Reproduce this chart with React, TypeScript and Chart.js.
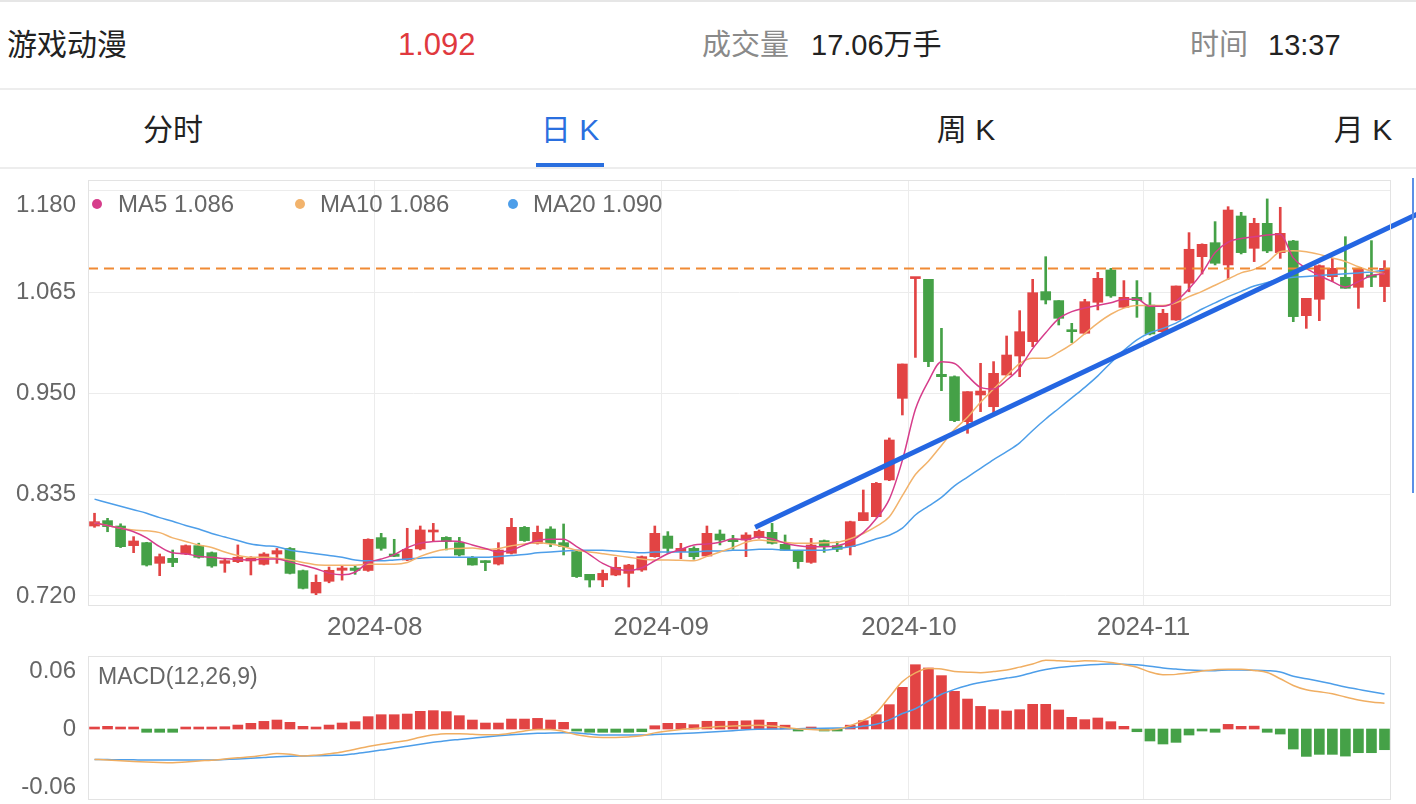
import React, { useEffect, useRef } from 'react';
import { Chart, registerables } from 'chart.js';
Chart.register(...registerables);

// ---------- data ----------
const opens = [0.7995,0.8056,0.7995,0.7772,0.7806,0.7571,0.7628,0.7677,0.7772,0.7692,0.7571,0.759,0.7598,0.756,0.7677,0.774,0.7488,0.7234,0.7367,0.7492,0.7518,0.749,0.7863,0.7677,0.7609,0.7734,0.7927,0.7866,0.7806,0.7639,0.7598,0.7563,0.7685,0.798,0.7798,0.7961,0.7806,0.7704,0.7446,0.7382,0.7438,0.7457,0.7495,0.7647,0.7881,0.7704,0.7741,0.7654,0.7904,0.7844,0.7836,0.7866,0.7923,0.7787,0.7719,0.7582,0.7829,0.7772,0.776,0.8056,0.8101,0.8518,0.9445,1.0805,1.0797,0.9718,0.9691,0.918,0.9483,0.935,0.971,0.9926,1.0089,1.0657,1.0555,1.0221,1.0184,1.0536,1.0903,1.0479,1.0592,1.0505,1.0202,1.0335,1.0752,1.1054,1.1213,1.096,1.1516,1.1149,1.1433,1.11,1.1232,1.0384,1.057,1.0827,1.082,1.0706,1.0846,1.0714];
const closes = [0.8044,0.7988,0.776,0.7825,0.7552,0.7647,0.758,0.7772,0.7639,0.7541,0.7601,0.764,0.7628,0.7677,0.7715,0.7457,0.7287,0.7355,0.7492,0.7518,0.749,0.7844,0.7741,0.765,0.773,0.795,0.7946,0.7817,0.7666,0.7552,0.7579,0.7722,0.798,0.7829,0.7923,0.7798,0.776,0.742,0.7382,0.7457,0.7526,0.7552,0.7647,0.7912,0.7741,0.7741,0.7647,0.7912,0.7836,0.7817,0.7893,0.7934,0.7798,0.7719,0.759,0.7779,0.776,0.773,0.8044,0.8147,0.848,0.8972,0.9835,1.0816,0.9862,0.9691,0.9192,0.9521,0.9528,0.9729,0.9937,1.0202,1.0645,1.0562,1.0354,1.0202,1.0543,1.0808,1.0608,1.0592,1.0555,1.0176,1.0411,1.0721,1.1138,1.1194,1.0979,1.1584,1.11,1.1433,1.1119,1.1319,1.0373,1.0581,1.0952,1.0922,1.0695,1.0922,1.082,1.0922];
const highs = [0.814,0.8082,0.802,0.7874,0.781,0.7677,0.7722,0.778,0.78,0.77,0.7628,0.778,0.7647,0.7692,0.774,0.775,0.7495,0.7439,0.7529,0.7548,0.7537,0.785,0.7912,0.7844,0.7969,0.7995,0.8025,0.7874,0.7866,0.765,0.7601,0.7806,0.8082,0.799,0.7995,0.7987,0.8018,0.771,0.7446,0.7495,0.7639,0.756,0.7654,0.7995,0.7931,0.7798,0.776,0.7995,0.795,0.7889,0.7919,0.795,0.8025,0.7893,0.772,0.7855,0.7836,0.7817,0.805,0.8404,0.849,0.8995,0.9835,1.0816,1.0797,1.024,0.97,0.9521,0.9843,0.9862,1.0153,1.0441,1.0797,1.1054,1.0555,1.0297,1.057,1.0876,1.0922,1.0782,1.0782,1.0645,1.0456,1.0721,1.1327,1.12,1.1452,1.1622,1.1558,1.149,1.171,1.1615,1.124,1.0581,1.096,1.1035,1.1281,1.0922,1.1236,1.1009];
const lows = [0.798,0.793,0.775,0.7692,0.754,0.7431,0.7533,0.767,0.763,0.7526,0.7469,0.7579,0.7439,0.7552,0.7571,0.745,0.728,0.7215,0.735,0.738,0.7446,0.748,0.772,0.7647,0.7601,0.7723,0.7817,0.7723,0.7654,0.755,0.7488,0.7552,0.7677,0.782,0.779,0.776,0.7666,0.741,0.7302,0.7306,0.743,0.7302,0.748,0.764,0.7685,0.7624,0.7617,0.765,0.778,0.773,0.7647,0.7855,0.779,0.7719,0.7514,0.7571,0.7696,0.7704,0.7666,0.8056,0.8097,0.851,0.9256,0.991,0.9805,0.9532,0.918,0.9048,0.9294,0.9275,0.9706,0.9691,1.0032,1.0517,1.0278,1.0078,1.0176,1.0449,1.0592,1.0479,1.0365,1.0165,1.018,1.033,1.0657,1.0857,1.096,1.0797,1.1085,1.0998,1.11,1.1035,1.0316,1.024,1.0327,1.077,1.0695,1.0467,1.0713,1.0543];

const ma5 = [0.803,0.8,0.797,0.793,0.786,0.776,0.769,0.768,0.765,0.764,0.7625,0.7615,0.761,0.762,0.762,0.7585,0.755,0.751,0.746,0.744,0.747,0.758,0.762,0.767,0.775,0.78,0.782,0.7825,0.782,0.778,0.774,0.77,0.772,0.778,0.783,0.7845,0.7845,0.776,0.767,0.757,0.751,0.749,0.752,0.76,0.768,0.773,0.778,0.779,0.781,0.785,0.784,0.787,0.785,0.78,0.777,0.776,0.776,0.777,0.782,0.792,0.808,0.83,0.874,0.932,0.964,0.986,0.984,0.97,0.957,0.955,0.965,0.979,1.001,1.019,1.035,1.043,1.047,1.05,1.053,1.057,1.057,1.049,1.049,1.055,1.069,1.087,1.11,1.122,1.126,1.128,1.13,1.131,1.104,1.092,1.084,1.077,1.071,1.077,1.084,1.086];
const ma10 = [0.803,0.8,0.797,0.795,0.794,0.792,0.786,0.782,0.778,0.775,0.77,0.766,0.764,0.764,0.763,0.761,0.758,0.7555,0.755,0.755,0.755,0.756,0.756,0.756,0.758,0.765,0.77,0.773,0.774,0.7745,0.773,0.774,0.777,0.779,0.7805,0.779,0.776,0.772,0.77,0.768,0.766,0.764,0.762,0.761,0.761,0.7605,0.76,0.765,0.77,0.775,0.781,0.7835,0.782,0.781,0.78,0.78,0.7805,0.781,0.785,0.791,0.799,0.81,0.834,0.858,0.873,0.891,0.909,0.923,0.94,0.955,0.97,0.984,0.99,0.99,0.997,1.006,1.018,1.03,1.04,1.047,1.05,1.05,1.05,1.053,1.06,1.066,1.073,1.08,1.087,1.091,1.099,1.111,1.112,1.111,1.108,1.104,1.1,1.094,1.089,1.086];
const ma20 = [0.83,0.826,0.822,0.818,0.814,0.809,0.805,0.8,0.796,0.791,0.787,0.783,0.779,0.777,0.776,0.772,0.77,0.768,0.766,0.764,0.761,0.76,0.76,0.761,0.762,0.763,0.764,0.764,0.764,0.764,0.764,0.765,0.766,0.767,0.769,0.77,0.771,0.772,0.772,0.772,0.771,0.77,0.769,0.77,0.77,0.77,0.77,0.771,0.771,0.772,0.772,0.773,0.773,0.772,0.772,0.772,0.772,0.774,0.776,0.78,0.785,0.789,0.797,0.812,0.822,0.832,0.845,0.855,0.865,0.875,0.884,0.894,0.908,0.921,0.933,0.945,0.957,0.97,0.985,0.999,1.011,1.019,1.024,1.03,1.038,1.046,1.053,1.06,1.066,1.072,1.076,1.08,1.082,1.083,1.084,1.085,1.086,1.087,1.088,1.09];

const difLine = [-0.0314,-0.032,-0.0328,-0.0336,-0.0342,-0.0346,-0.0348,-0.034,-0.033,-0.0322,-0.031,-0.0298,-0.0288,-0.027,-0.0252,-0.026,-0.0279,-0.027,-0.0255,-0.0237,-0.021,-0.018,-0.0158,-0.0138,-0.0118,-0.0085,-0.006,-0.0048,-0.0048,-0.0055,-0.006,-0.0058,-0.0042,-0.002,-0.0005,-0.0005,-0.0025,-0.006,-0.008,-0.0087,-0.0087,-0.0082,-0.007,-0.004,-0.002,-0.0005,0.0005,0.0015,0.0025,0.003,0.0035,0.004,0.003,0.0015,0,-0.0005,-0.001,-0.0003,0.0035,0.009,0.017,0.033,0.049,0.058,0.0625,0.062,0.0595,0.0588,0.0583,0.0595,0.061,0.064,0.0672,0.0712,0.0705,0.0698,0.0705,0.0702,0.0688,0.0665,0.0638,0.059,0.0562,0.0565,0.058,0.06,0.0614,0.0617,0.0617,0.0605,0.0585,0.052,0.045,0.0405,0.0385,0.0365,0.033,0.03,0.028,0.0266];
const deaLine = [-0.0314,-0.0316,-0.0318,-0.0319,-0.032,-0.032,-0.032,-0.032,-0.032,-0.032,-0.0315,-0.031,-0.0303,-0.0295,-0.0287,-0.0282,-0.0279,-0.0276,-0.0273,-0.027,-0.0255,-0.0237,-0.0218,-0.02,-0.0178,-0.0157,-0.0138,-0.0121,-0.0108,-0.0095,-0.0082,-0.007,-0.006,-0.0052,-0.0045,-0.004,-0.0038,-0.0042,-0.0052,-0.0062,-0.0063,-0.0063,-0.0062,-0.0057,-0.0051,-0.0046,-0.004,-0.0033,-0.0026,-0.0018,-0.0008,-0.0003,0,0.0002,0.0004,0.0005,0.0007,0.001,0.0014,0.003,0.005,0.0095,0.016,0.021,0.029,0.036,0.041,0.045,0.048,0.0505,0.0527,0.0548,0.0585,0.0615,0.0636,0.065,0.066,0.0667,0.0672,0.067,0.0664,0.065,0.0632,0.062,0.061,0.0605,0.0603,0.061,0.061,0.0608,0.0603,0.059,0.0545,0.052,0.0495,0.0465,0.0435,0.041,0.0385,0.0362];
const macdHist = [0.0017,0.0028,0.001,0.001,-0.0034,-0.0034,-0.0034,0.001,0.0015,0.0015,0.0024,0.0041,0.0059,0.0079,0.0093,0.0069,0.0028,0.0017,0.0041,0.0062,0.0076,0.0128,0.0148,0.0148,0.0155,0.0183,0.019,0.018,0.0138,0.0093,0.0062,0.0062,0.0103,0.0103,0.011,0.0093,0.0069,-0.0017,-0.0034,-0.0034,-0.0034,-0.0034,-0.0028,0.0034,0.0059,0.0059,0.0045,0.008,0.008,0.008,0.0085,0.0093,0.0069,0.004,-0.0017,0.001,-0.0017,-0.0017,0.004,0.0086,0.0148,0.0252,0.0431,0.0665,0.0631,0.0552,0.039,0.031,0.0234,0.02,0.0186,0.02,0.0255,0.0255,0.0197,0.0121,0.0097,0.0114,0.0076,0.0028,-0.0028,-0.0124,-0.0155,-0.0138,-0.0062,-0.0017,-0.0034,0.0048,0.0028,0.003,-0.0034,-0.0052,-0.0207,-0.0283,-0.0262,-0.0262,-0.028,-0.0245,-0.0245,-0.0214];

const monthTickPos = [21.5, 43.5, 62.5, 80.5];
const monthLabels = ['2024-08', '2024-09', '2024-10', '2024-11'];
const priceTicks = [1.18, 1.065, 0.95, 0.835, 0.72];
const macdTicks = [0.06, 0, -0.06];
const lastPrice = 1.092;
const trendStart = { x: 50.7, y: 0.798 };
const trendEnd = { x: 102, y: 1.157 };

// ---------- styles ----------
const RED = '#e24444';
const GREEN = '#45a147';
const FONT = '"Liberation Sans", "Noto Sans CJK SC", Arial, sans-serif';
const AXIS_TEXT = '#666666';
const GRID = '#ececec';

const idx = opens.map((_, i) => i);
const candleColor = idx.map(i => (closes[i] >= opens[i] ? RED : GREEN));

function panelPlugin(values: number[], fmt: (v: number) => string, topInset: number) {
  return {
    id: 'panelBox',
    afterDraw(chart: any) {
      const { ctx, chartArea: a } = chart;
      const ys = chart.scales.y;
      ctx.save();
      ctx.strokeStyle = '#e3e3e3';
      ctx.lineWidth = 1;
      ctx.strokeRect(a.left + 0.5, a.top + 0.5, a.right - a.left - 1, a.bottom - a.top - 1);
      ctx.fillStyle = AXIS_TEXT;
      ctx.font = `24px ${FONT}`;
      ctx.textAlign = 'right';
      ctx.textBaseline = 'middle';
      values.forEach(v => {
        let py = ys.getPixelForValue(v);
        if (topInset > 0) py = Math.max(py, a.top + topInset);
        ctx.fillText(fmt(v), a.left - 12, py);
      });
      ctx.restore();
    },
  };
}

const xScaleBase = (showLabels: boolean, h: number) => ({
  type: 'linear' as const,
  min: -0.5,
  max: 99.5,
  offset: false,
  afterBuildTicks: (s: any) => {
    s.ticks = monthTickPos.map(v => ({ value: v }));
  },
  afterFit: (s: any) => {
    s.height = h;
  },
  ticks: {
    display: showLabels,
    autoSkip: false,
    maxRotation: 0,
    padding: 6,
    color: AXIS_TEXT,
    font: { size: 26, family: FONT },
    callback: (_v: any, i: number) => monthLabels[i],
  },
  grid: { color: GRID, drawTicks: false, offset: false },
  border: { display: false },
});

export default function App() {
  const mainRef = useRef<HTMLCanvasElement>(null);
  const macdRef = useRef<HTMLCanvasElement>(null);

  useEffect(() => {
    document.body.style.margin = '0';
    const line = (data: number[], color: string, order: number) => ({
      type: 'line' as const,
      data: data.map((v, i) => ({ x: i, y: v })),
      borderColor: color,
      borderWidth: 1.5,
      pointRadius: 0,
      cubicInterpolationMode: 'monotone' as const,
      order,
    });

    const c1 = new Chart(mainRef.current!, {
      type: 'bar',
      data: {
        datasets: [
          {
            type: 'line',
            data: [trendStart, trendEnd],
            borderColor: '#2466e2',
            borderWidth: 5,
            pointRadius: 0,
            clip: false,
            order: 0,
          } as any,
          {
            type: 'line',
            data: [{ x: -0.5, y: lastPrice }, { x: 99.5, y: lastPrice }],
            borderColor: '#f08a34',
            borderWidth: 2,
            borderDash: [10, 6],
            pointRadius: 0,
            order: 1,
          } as any,
          line(ma5, '#d63d8b', 2) as any,
          line(ma10, '#f2b36c', 3) as any,
          line(ma20, '#4d9ee9', 4) as any,
          {
            type: 'bar',
            data: idx.map(i => ({ x: i, y: [opens[i], closes[i]] })),
            backgroundColor: candleColor,
            barThickness: 10,
            minBarLength: 2,
            grouped: false,
            order: 5,
          } as any,
          {
            type: 'bar',
            data: idx.map(i => ({ x: i, y: [lows[i], highs[i]] })),
            backgroundColor: candleColor,
            barThickness: 2,
            grouped: false,
            order: 6,
          } as any,
        ],
      },
      options: {
        responsive: false,
        animation: false,
        devicePixelRatio: 1,
        events: [],
        layout: { padding: { top: 10, right: 25, left: 0, bottom: 0 } },
        plugins: { legend: { display: false }, tooltip: { enabled: false } },
        scales: {
          x: xScaleBase(true, 44) as any,
          y: {
            type: 'linear',
            min: 0.70864,
            max: 1.19249,
            bounds: 'data',
            afterBuildTicks: (s: any) => {
              s.ticks = priceTicks.map(v => ({ value: v }));
            },
            afterFit: (s: any) => {
              s.width = 88;
            },
            ticks: { display: false },
            grid: { color: GRID, drawTicks: false },
            border: { display: false },
          },
        },
      },
      plugins: [panelPlugin(priceTicks, v => v.toFixed(3), 25)],
    });

    const c2 = new Chart(macdRef.current!, {
      type: 'bar',
      data: {
        datasets: [
          line(difLine, '#f0ae62', 0) as any,
          line(deaLine, '#4d9ee9', 1) as any,
          {
            type: 'bar',
            data: idx.map(i => ({ x: i, y: macdHist[i] })),
            backgroundColor: macdHist.map(v => (v >= 0 ? RED : GREEN)),
            barThickness: 10,
            minBarLength: 2,
            grouped: false,
            order: 2,
          } as any,
        ],
      },
      options: {
        responsive: false,
        animation: false,
        devicePixelRatio: 1,
        events: [],
        layout: { padding: { top: 6, right: 25, left: 0, bottom: 0 } },
        plugins: { legend: { display: false }, tooltip: { enabled: false } },
        scales: {
          x: xScaleBase(false, 4) as any,
          y: {
            type: 'linear',
            min: -0.0734,
            max: 0.0755,
            bounds: 'data',
            afterFit: (s: any) => {
              s.width = 88;
            },
            ticks: { display: false },
            grid: { display: false },
            border: { display: false },
          },
        },
      },
      plugins: [panelPlugin(macdTicks, v => (v === 0 ? '0' : v.toFixed(2)), 0)],
    });

    return () => {
      c1.destroy();
      c2.destroy();
    };
  }, []);

  const T = (left: number, cy: number, size: number, color: string, text: string) => (
    <div
      style={{
        position: 'absolute',
        left,
        top: cy - size * 0.7,
        height: size * 1.4,
        lineHeight: `${size * 1.4}px`,
        fontSize: size,
        color,
        whiteSpace: 'nowrap',
      }}
    >
      {text}
    </div>
  );
  const C = (cx: number, cy: number, size: number, color: string, text: string) => (
    <div
      style={{
        position: 'absolute',
        left: cx - 100,
        width: 200,
        textAlign: 'center',
        top: cy - size * 0.7,
        height: size * 1.4,
        lineHeight: `${size * 1.4}px`,
        fontSize: size,
        color,
        whiteSpace: 'pre',
      }}
    >
      {text}
    </div>
  );
  const dot = (cx: number, cy: number, color: string) => (
    <div
      style={{
        position: 'absolute',
        left: cx - 5,
        top: cy - 5,
        width: 10,
        height: 10,
        borderRadius: 5,
        background: color,
      }}
    />
  );
  const hline = (top: number, h: number, color: string) => (
    <div style={{ position: 'absolute', left: 0, top, width: 1416, height: h, background: color }} />
  );

  return (
    <div
      style={{
        position: 'relative',
        width: 1416,
        height: 804,
        overflow: 'hidden',
        background: '#ffffff',
        fontFamily: FONT,
      }}
    >
      {hline(0, 2, '#e6e6e6')}
      {T(7, 45, 30, '#222222', '游戏动漫')}
      {T(398, 45, 31, '#e0393e', '1.092')}
      {T(702, 45, 29, '#8a8a8a', '成交量')}
      {T(811, 45, 29, '#222222', '17.06万手')}
      {T(1190, 45, 29, '#8a8a8a', '时间')}
      {T(1268, 45, 29, '#222222', '13:37')}
      {hline(88, 2, '#ededed')}
      {C(173, 130, 30, '#222222', '分时')}
      {C(570, 130, 30, '#2a6fdf', '日 K')}
      {C(966, 130, 30, '#222222', '周 K')}
      {C(1363, 130, 30, '#222222', '月 K')}
      <div style={{ position: 'absolute', left: 536, top: 163, width: 68, height: 4, background: '#2a6fdf' }} />
      {hline(167, 2, '#ededed')}

      <canvas
        ref={mainRef}
        width={1416}
        height={480}
        style={{ position: 'absolute', left: 0, top: 170, width: 1416, height: 480 }}
      />
      <canvas
        ref={macdRef}
        width={1416}
        height={154}
        style={{ position: 'absolute', left: 0, top: 650, width: 1416, height: 154 }}
      />

      {dot(97, 204, '#d63d8b')}
      {T(118, 204, 24, '#666666', 'MA5  1.086')}
      {dot(300, 204, '#f2b36c')}
      {T(320, 204, 24, '#666666', 'MA10  1.086')}
      {dot(513, 204, '#4d9ee9')}
      {T(533, 204, 24, '#666666', 'MA20  1.090')}
      {T(98, 676, 23, '#666666', 'MACD(12,26,9)')}
      <div style={{ position: 'absolute', left: 1412, top: 178, width: 2, height: 315, background: '#5b8fe6' }} />
    </div>
  );
}
